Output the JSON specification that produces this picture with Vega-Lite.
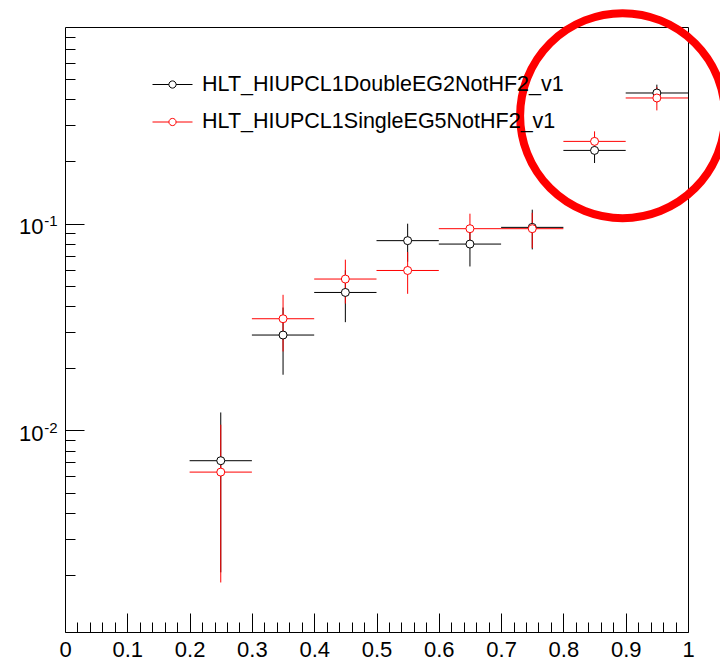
{
  "$schema": "https://vega.github.io/schema/vega-lite/v6.json",
  "width": 623,
  "height": 605,
  "autosize": {"type": "none"},
  "padding": {"left": 65, "top": 27, "right": 32, "bottom": 29},
  "background": "white",
  "config": {
    "view": {"stroke": "#000", "strokeWidth": 1},
    "axis": {"grid": false, "domain": false, "title": null, "tickColor": "#000", "tickWidth": 1, "labelFont": "Liberation Sans", "labelFontSize": 22, "labelColor": "#000", "labelFlush": false, "labelOverlap": false, "labelBound": false}
  },
  "datasets": {
    "pts": [
      {"series": "HLT_HIUPCL1DoubleEG2NotHF2_v1", "x": 0.25, "xlo": 0.2, "xhi": 0.3, "y": 0.00714, "ylo": 0.00206, "yhi": 0.01222},
      {"series": "HLT_HIUPCL1DoubleEG2NotHF2_v1", "x": 0.35, "xlo": 0.3, "xhi": 0.4, "y": 0.02894, "ylo": 0.0186, "yhi": 0.0393},
      {"series": "HLT_HIUPCL1DoubleEG2NotHF2_v1", "x": 0.45, "xlo": 0.4, "xhi": 0.5, "y": 0.0465, "ylo": 0.0334, "yhi": 0.0596},
      {"series": "HLT_HIUPCL1DoubleEG2NotHF2_v1", "x": 0.55, "xlo": 0.5, "xhi": 0.6, "y": 0.0828, "ylo": 0.0655, "yhi": 0.1},
      {"series": "HLT_HIUPCL1DoubleEG2NotHF2_v1", "x": 0.65, "xlo": 0.6, "xhi": 0.7, "y": 0.0797, "ylo": 0.0621, "yhi": 0.0973},
      {"series": "HLT_HIUPCL1DoubleEG2NotHF2_v1", "x": 0.75, "xlo": 0.7, "xhi": 0.8, "y": 0.096, "ylo": 0.0751, "yhi": 0.1169},
      {"series": "HLT_HIUPCL1DoubleEG2NotHF2_v1", "x": 0.85, "xlo": 0.8, "xhi": 0.9, "y": 0.2262, "ylo": 0.1966, "yhi": 0.2558},
      {"series": "HLT_HIUPCL1DoubleEG2NotHF2_v1", "x": 0.95, "xlo": 0.9, "xhi": 1.0, "y": 0.4287, "ylo": 0.3867, "yhi": 0.4704},
      {"series": "HLT_HIUPCL1SingleEG5NotHF2_v1", "x": 0.25, "xlo": 0.2, "xhi": 0.3, "y": 0.00629, "ylo": 0.00184, "yhi": 0.01066},
      {"series": "HLT_HIUPCL1SingleEG5NotHF2_v1", "x": 0.35, "xlo": 0.3, "xhi": 0.4, "y": 0.0347, "ylo": 0.0241, "yhi": 0.0453},
      {"series": "HLT_HIUPCL1SingleEG5NotHF2_v1", "x": 0.45, "xlo": 0.4, "xhi": 0.5, "y": 0.054, "ylo": 0.0411, "yhi": 0.067},
      {"series": "HLT_HIUPCL1SingleEG5NotHF2_v1", "x": 0.55, "xlo": 0.5, "xhi": 0.6, "y": 0.0594, "ylo": 0.0458, "yhi": 0.073},
      {"series": "HLT_HIUPCL1SingleEG5NotHF2_v1", "x": 0.65, "xlo": 0.6, "xhi": 0.7, "y": 0.0946, "ylo": 0.0774, "yhi": 0.1118},
      {"series": "HLT_HIUPCL1SingleEG5NotHF2_v1", "x": 0.75, "xlo": 0.7, "xhi": 0.8, "y": 0.0946, "ylo": 0.0763, "yhi": 0.1129},
      {"series": "HLT_HIUPCL1SingleEG5NotHF2_v1", "x": 0.85, "xlo": 0.8, "xhi": 0.9, "y": 0.2501, "ylo": 0.2206, "yhi": 0.2796},
      {"series": "HLT_HIUPCL1SingleEG5NotHF2_v1", "x": 0.95, "xlo": 0.9, "xhi": 1.0, "y": 0.4056, "ylo": 0.3532, "yhi": 0.458}
    ],
    "ann": [{"x": 0.895, "y": 0.333}]
  },
  "layer": [
    {
      "data": {"name": "pts"},
      "mark": {"type": "rule", "strokeWidth": 1},
      "encoding": {
        "x": {"field": "xlo", "type": "quantitative", "scale": {"domain": [0, 1], "nice": false, "zero": false},
          "axis": {"orient": "bottom", "values": [0, 0.1, 0.2, 0.3, 0.4, 0.5, 0.6, 0.7, 0.8, 0.9, 1], "tickSize": -19, "labelPadding": 26, "labelBaseline": "top", "labelFontSize": 22, "labelFont": "Liberation Sans",
            "labelExpr": "datum.value == 0 ? '0' : datum.value == 1 ? '1' : format(datum.value, '.1f')"}},
        "x2": {"field": "xhi"},
        "y": {"field": "y", "type": "quantitative", "scale": {"type": "log", "domain": [0.00106, 0.894], "nice": false, "zero": false},
          "axis": {"orient": "left", "values": [0.01, 0.1], "tickSize": -19, "labelPadding": 41, "labelBaseline": "middle", "labelOffset": 3, "labelFontSize": 22, "labelFont": "Liberation Sans",
            "labelExpr": "'10'"}},
        "color": {"field": "series", "type": "nominal",
          "scale": {"domain": ["HLT_HIUPCL1DoubleEG2NotHF2_v1", "HLT_HIUPCL1SingleEG5NotHF2_v1"], "range": ["#000000", "#ff0000"]},
          "legend": {"orient": "none", "legendX": 87, "legendY": 37, "title": null, "padding": 0,
            "symbolType": "M-1,0H-0.18M0.18,0H1M0.18,0A0.18,0.18,0,1,1,-0.18,0A0.18,0.18,0,1,1,0.18,0",
            "symbolSize": 1600, "symbolStrokeWidth": 1, "symbolFillColor": "white",
            "labelFont": "Liberation Sans", "labelFontSize": 21.5, "labelColor": "#000", "labelOffset": 9, "rowPadding": 6.5, "labelLimit": 0}}
      }
    },
    {
      "data": {"name": "pts"},
      "mark": {"type": "rule", "strokeWidth": 1},
      "encoding": {
        "x": {"field": "x", "type": "quantitative", "scale": {"domain": [0, 1], "nice": false, "zero": false},
          "axis": {"orient": "bottom", "labels": false, "tickSize": -10,
            "values": [0.02, 0.04, 0.06, 0.08, 0.12, 0.14, 0.16, 0.18, 0.22, 0.24, 0.26, 0.28, 0.32, 0.34, 0.36, 0.38, 0.42, 0.44, 0.46, 0.48, 0.52, 0.54, 0.56, 0.58, 0.62, 0.64, 0.66, 0.68, 0.72, 0.74, 0.76, 0.78, 0.82, 0.84, 0.86, 0.88, 0.92, 0.94, 0.96, 0.98]}},
        "y": {"field": "ylo", "type": "quantitative", "scale": {"type": "log", "domain": [0.00106, 0.894], "nice": false, "zero": false},
          "axis": {"orient": "left", "tickSize": -10, "labelPadding": 18, "labelBaseline": "middle", "labelOffset": -3, "labelFontSize": 15, "labelFont": "Liberation Sans",
            "labelExpr": "datum.value == 0.1 ? '-1' : datum.value == 0.01 ? '-2' : ''",
            "values": [0.002, 0.003, 0.004, 0.005, 0.006, 0.007, 0.008, 0.009, 0.01, 0.02, 0.03, 0.04, 0.05, 0.06, 0.07, 0.08, 0.09, 0.1, 0.2, 0.3, 0.4, 0.5, 0.6, 0.7, 0.8]}},
        "y2": {"field": "yhi"},
        "color": {"field": "series", "type": "nominal", "legend": null}
      }
    },
    {
      "data": {"name": "pts"},
      "mark": {"type": "point", "filled": false, "fill": "white", "fillOpacity": 1, "opacity": 1, "size": 64, "strokeWidth": 1},
      "encoding": {
        "x": {"field": "x", "type": "quantitative", "scale": {"domain": [0, 1], "nice": false, "zero": false}, "axis": null},
        "y": {"field": "y", "type": "quantitative", "scale": {"type": "log", "domain": [0.00106, 0.894], "nice": false, "zero": false}, "axis": null},
        "color": {"field": "series", "type": "nominal", "legend": null}
      }
    },
    {
      "data": {"name": "ann"},
      "mark": {"type": "point", "shape": "circle", "filled": false, "size": 42000, "stroke": "#ff0000", "strokeWidth": 8, "opacity": 1},
      "encoding": {
        "x": {"field": "x", "type": "quantitative", "scale": {"domain": [0, 1], "nice": false, "zero": false}, "axis": null},
        "y": {"field": "y", "type": "quantitative", "scale": {"type": "log", "domain": [0.00106, 0.894], "nice": false, "zero": false}, "axis": null}
      }
    }
  ],
  "resolve": {"axis": {"x": "independent", "y": "independent"}}
}
